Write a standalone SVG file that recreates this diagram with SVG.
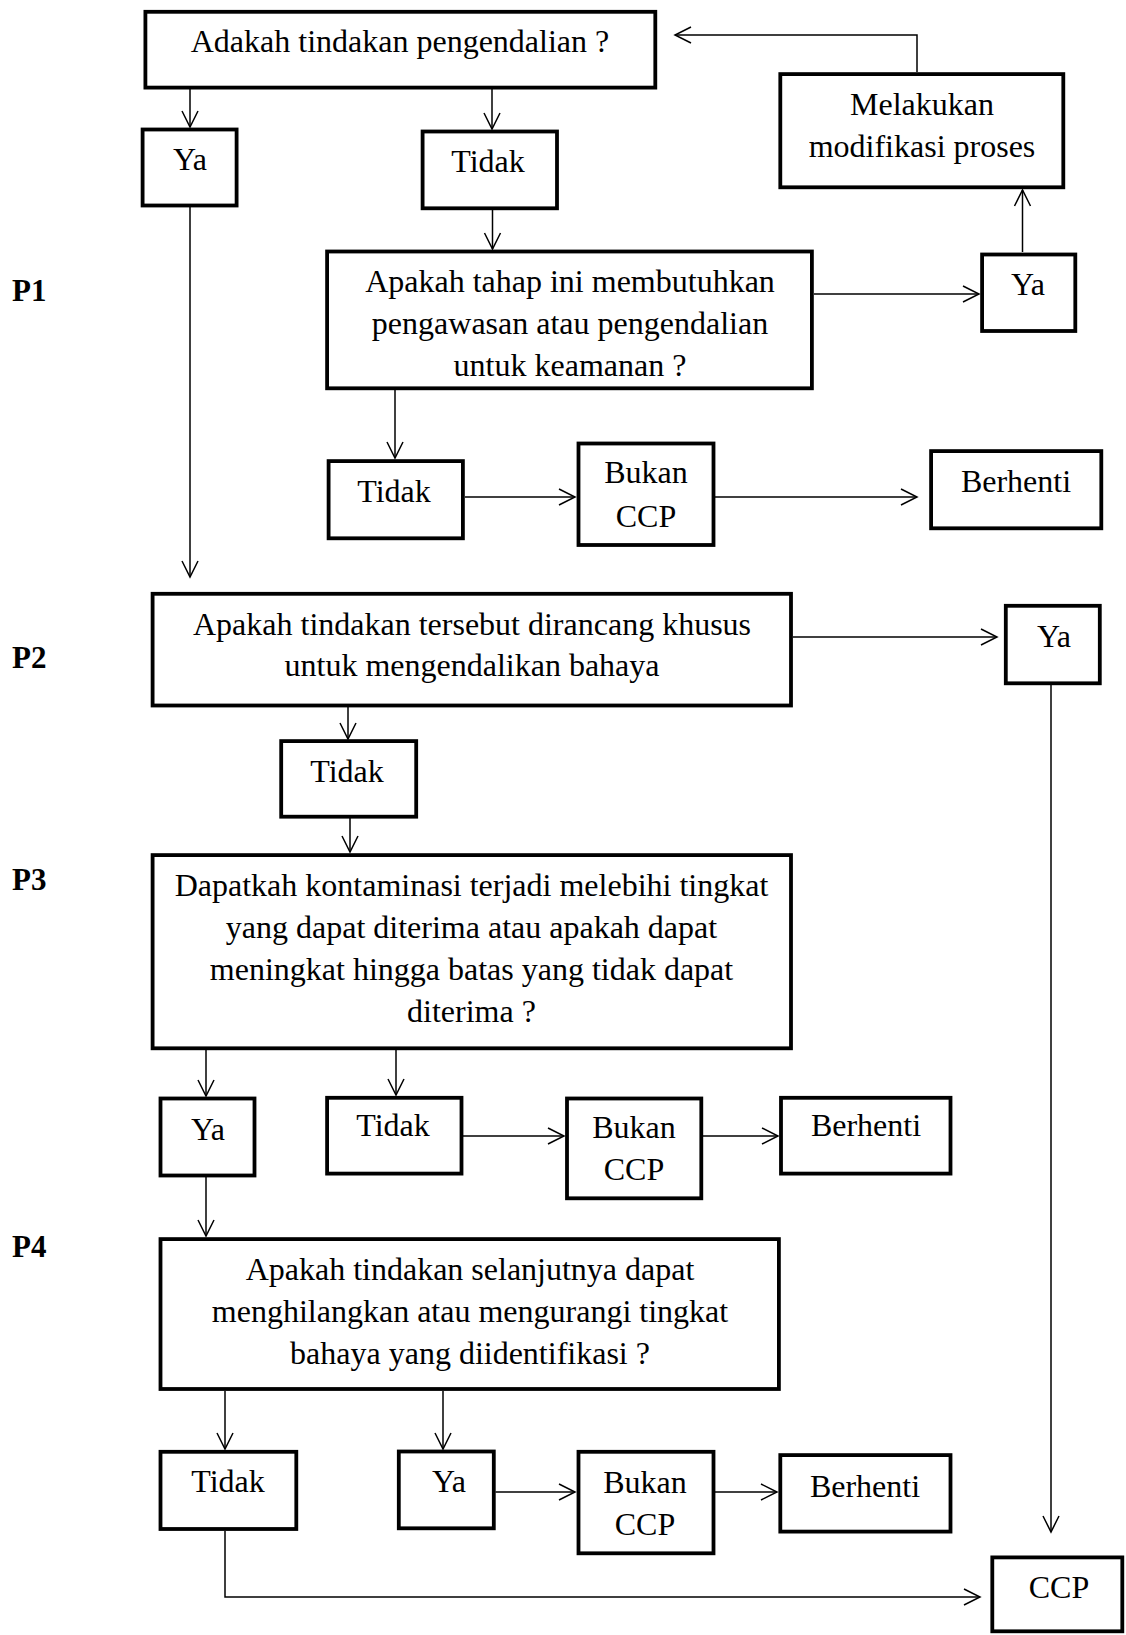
<svg xmlns="http://www.w3.org/2000/svg" width="1126" height="1635" viewBox="0 0 1126 1635">
<defs>
<style>
.b{fill:#fff;stroke:#000;stroke-width:3.8}
.t{font-family:"Liberation Serif","Times New Roman",serif;font-size:32px;fill:#000;text-anchor:middle}
.p{font-family:"Liberation Serif","Times New Roman",serif;font-size:31px;font-weight:bold;fill:#000}
.c{fill:none;stroke:#000;stroke-width:1.5;marker-end:url(#a)}
</style>
<marker id="a" viewBox="-18 -10 20 20" refX="0" refY="0" markerWidth="20" markerHeight="20" markerUnits="userSpaceOnUse" orient="auto" overflow="visible">
<path d="M-16,-8 L0,0 L-16,8" fill="none" stroke="#000" stroke-width="1.5"/>
</marker>
</defs>
<rect width="1126" height="1635" fill="#fff"/>
<g id="labels">
<text class="p" x="12" y="301">P1</text>
<text class="p" x="12" y="668">P2</text>
<text class="p" x="12" y="890">P3</text>
<text class="p" x="12" y="1257">P4</text>
</g>
<g id="connectors">
<line class="c" x1="190" y1="89" x2="190" y2="127"/>
<line class="c" x1="492" y1="89" x2="492" y2="129"/>
<line class="c" x1="492.5" y1="210" x2="492.5" y2="249"/>
<line class="c" x1="814" y1="294" x2="979" y2="294"/>
<line class="c" x1="1022.5" y1="252" x2="1022.5" y2="190"/>
<polyline class="c" points="917,72 917,35 675,35"/>
<line class="c" x1="190" y1="207" x2="190" y2="577"/>
<line class="c" x1="395" y1="390" x2="395" y2="458"/>
<line class="c" x1="465" y1="497" x2="575" y2="497"/>
<line class="c" x1="715" y1="497" x2="917" y2="497"/>
<line class="c" x1="793" y1="637" x2="997" y2="637"/>
<line class="c" x1="1051" y1="685" x2="1051" y2="1532"/>
<line class="c" x1="348" y1="707" x2="348" y2="739"/>
<line class="c" x1="350" y1="818" x2="350" y2="852"/>
<line class="c" x1="206" y1="1050" x2="206" y2="1096"/>
<line class="c" x1="396" y1="1050" x2="396" y2="1095"/>
<line class="c" x1="463" y1="1136" x2="564" y2="1136"/>
<line class="c" x1="703" y1="1136" x2="778" y2="1136"/>
<line class="c" x1="206" y1="1177" x2="206" y2="1236"/>
<line class="c" x1="225" y1="1391" x2="225" y2="1449"/>
<line class="c" x1="443" y1="1391" x2="443" y2="1449"/>
<line class="c" x1="495.5" y1="1492" x2="575" y2="1492"/>
<line class="c" x1="715" y1="1492" x2="777" y2="1492"/>
<polyline class="c" points="225,1531 225,1597 980,1597"/>
</g>
<g id="n-start"><rect class="b" x="145.4" y="11.8" width="509.9" height="75.8"/><text class="t" x="400" y="52">Adakah tindakan pengendalian ?</text></g>
<g id="n-ya1"><rect class="b" x="142.6" y="129.5" width="94" height="76"/><text class="t" x="190" y="170">Ya</text></g>
<g id="n-tidak1"><rect class="b" x="422.6" y="131.5" width="134.4" height="76.8"/><text class="t" x="488" y="172">Tidak</text></g>
<g id="n-modif"><rect class="b" x="780.3" y="74.1" width="283" height="113.2"/><text class="t" x="922" y="115">Melakukan</text><text class="t" x="922" y="157">modifikasi proses</text></g>
<g id="n-q1"><rect class="b" x="327.1" y="251.5" width="484.8" height="136.8"/><text class="t" x="570" y="292">Apakah tahap ini membutuhkan</text><text class="t" x="570" y="334">pengawasan atau pengendalian</text><text class="t" x="570" y="376">untuk keamanan ?</text></g>
<g id="n-ya1r"><rect class="b" x="982.1" y="254.5" width="93.2" height="76.5"/><text class="t" x="1028" y="295">Ya</text></g>
<g id="n-tidak1b"><rect class="b" x="328.6" y="461.1" width="134.3" height="77.2"/><text class="t" x="394" y="502">Tidak</text></g>
<g id="n-bukan1"><rect class="b" x="578.5" y="443.5" width="135" height="101.5"/><text class="t" x="646" y="483">Bukan</text><text class="t" x="646" y="527">CCP</text></g>
<g id="n-berhenti1"><rect class="b" x="931.1" y="451.1" width="170.2" height="77.2"/><text class="t" x="1016" y="492">Berhenti</text></g>
<g id="n-q2"><rect class="b" x="152.6" y="593.8" width="638.4" height="111.7"/><text class="t" x="472" y="635">Apakah tindakan tersebut dirancang khusus</text><text class="t" x="472" y="676">untuk mengendalikan bahaya</text></g>
<g id="n-ya2"><rect class="b" x="1005.8" y="605.8" width="94" height="77.5"/><text class="t" x="1054" y="647">Ya</text></g>
<g id="n-tidak2"><rect class="b" x="281.2" y="741.1" width="135" height="75.6"/><text class="t" x="347" y="782">Tidak</text></g>
<g id="n-q3"><rect class="b" x="152.6" y="855.1" width="638.4" height="193.2"/><text class="t" x="471.5" y="896">Dapatkah kontaminasi terjadi melebihi tingkat</text><text class="t" x="471.5" y="938">yang dapat diterima atau apakah dapat</text><text class="t" x="471.5" y="980">meningkat hingga batas yang tidak dapat</text><text class="t" x="471.5" y="1022">diterima ?</text></g>
<g id="n-ya3"><rect class="b" x="160.5" y="1098.5" width="94" height="77"/><text class="t" x="208" y="1140">Ya</text></g>
<g id="n-tidak3"><rect class="b" x="327.1" y="1097.8" width="134.4" height="75.8"/><text class="t" x="393" y="1136">Tidak</text></g>
<g id="n-bukan3"><rect class="b" x="567" y="1098.5" width="134.3" height="99.8"/><text class="t" x="634" y="1138">Bukan</text><text class="t" x="634" y="1180">CCP</text></g>
<g id="n-berhenti3"><rect class="b" x="781" y="1097.8" width="169.5" height="75.8"/><text class="t" x="866" y="1136">Berhenti</text></g>
<g id="n-q4"><rect class="b" x="160.5" y="1239.1" width="618.4" height="149.9"/><text class="t" x="470" y="1280">Apakah tindakan selanjutnya dapat</text><text class="t" x="470" y="1322">menghilangkan atau mengurangi tingkat</text><text class="t" x="470" y="1364">bahaya yang diidentifikasi ?</text></g>
<g id="n-tidak4"><rect class="b" x="160.5" y="1451.8" width="135.8" height="77.2"/><text class="t" x="228" y="1492">Tidak</text></g>
<g id="n-ya4"><rect class="b" x="398.8" y="1451.5" width="95" height="76.8"/><text class="t" x="449" y="1492">Ya</text></g>
<g id="n-bukan4"><rect class="b" x="578.5" y="1451.8" width="135" height="101.5"/><text class="t" x="645" y="1493">Bukan</text><text class="t" x="645" y="1535">CCP</text></g>
<g id="n-berhenti4"><rect class="b" x="780.3" y="1455.1" width="170.2" height="76.5"/><text class="t" x="865" y="1497">Berhenti</text></g>
<g id="n-ccp"><rect class="b" x="992.3" y="1557.4" width="130" height="73.9"/><text class="t" x="1059" y="1598">CCP</text></g>
</svg>
